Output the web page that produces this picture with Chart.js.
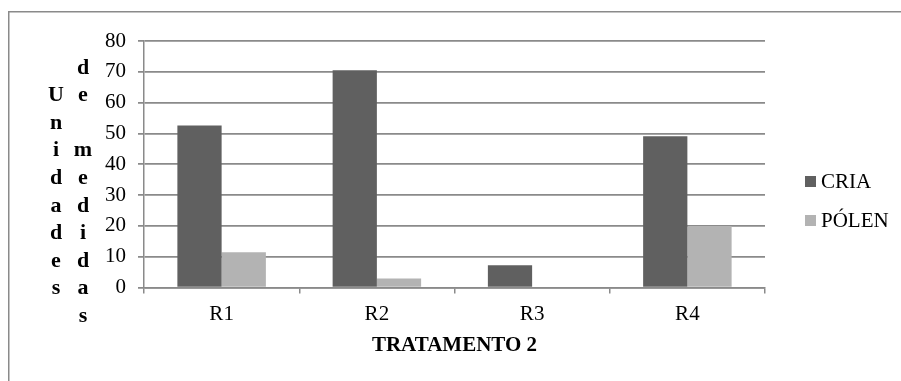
<!DOCTYPE html>
<html>
<head>
<meta charset="utf-8">
<script src="https://cdn.jsdelivr.net/npm/chart.js@4/dist/chart.umd.min.js"></script>
<style>
  html, body { margin: 0; padding: 0; background: #ffffff; }
  #wrap { width: 901px; height: 381px; }
</style>
</head>
<body>
<div id="wrap"><canvas id="c" width="901" height="381"></canvas></div>
<script>
// Data
const categories = ['R1', 'R2', 'R3', 'R4'];
const criaValues = [52.6, 70.5, 7.2, 49.1];
const polenValues = [11.4, 2.9, 0, 20.0];
const seriesNames = ['CRIA', 'PÓLEN'];
const seriesColors = ['#606060', '#b3b3b3'];
const yTicks = [0, 10, 20, 30, 40, 50, 60, 70, 80];
const xTitle = 'TRATAMENTO 2';
// Vertical axis title, stacked letter by letter in two columns
const yTitleColumns = [
  ['', 'U', 'n', 'i', 'd', 'a', 'd', 'e', 's'],
  ['d', 'e', '', 'm', 'e', 'd', 'i', 'd', 'a', 's']
];

const FONT = '"Liberation Serif", "Times New Roman", serif';
const GRID = '#8a8a8a';

// Outer frame and white background
const framePlugin = {
  id: 'frame',
  beforeDraw(chart) {
    const ctx = chart.ctx;
    ctx.save();
    ctx.fillStyle = '#ffffff';
    ctx.fillRect(0, 0, chart.width, chart.height);
    ctx.strokeStyle = GRID;
    ctx.lineWidth = 1.5;
    ctx.strokeRect(8.75, 11.75, chart.width + 20, chart.height + 20);
    ctx.restore();
  }
};

// Stacked vertical title for the value axis
const yTitlePlugin = {
  id: 'yTitleStack',
  afterDraw(chart) {
    const ctx = chart.ctx;
    const colX = [56, 83];
    const firstBaseline = 73.5;
    const step = 27.6;
    ctx.save();
    ctx.font = 'bold 22px ' + FONT;
    ctx.fillStyle = '#000';
    ctx.textAlign = 'center';
    ctx.textBaseline = 'alphabetic';
    yTitleColumns.forEach((col, ci) => {
      col.forEach((ch, ri) => {
        if (ch) ctx.fillText(ch, colX[ci], firstBaseline + ri * step);
      });
    });
    ctx.restore();
  }
};

// Legend at the right of the plot
const legendPlugin = {
  id: 'sideLegend',
  afterDraw(chart) {
    const ctx = chart.ctx;
    const boxX = 805, box = 11, textX = 821;
    const centers = [181.5, 220.5];
    ctx.save();
    ctx.font = '21px ' + FONT;
    ctx.textBaseline = 'middle';
    ctx.textAlign = 'left';
    chart.data.datasets.forEach((ds, i) => {
      ctx.fillStyle = ds.backgroundColor;
      ctx.fillRect(boxX, centers[i] - box / 2, box, box);
      ctx.fillStyle = '#000';
      ctx.fillText(ds.label, textX, centers[i] + 1);
    });
    ctx.restore();
  }
};

new Chart(document.getElementById('c'), {
  type: 'bar',
  data: {
    labels: categories,
    datasets: [
      { label: seriesNames[0], data: criaValues, backgroundColor: seriesColors[0] },
      { label: seriesNames[1], data: polenValues, backgroundColor: seriesColors[1] }
    ]
  },
  options: {
    responsive: false,
    devicePixelRatio: 1,
    animation: false,
    categoryPercentage: 0.57,
    barPercentage: 1.0,
    layout: { padding: { top: 41, right: 136, left: 0, bottom: 0 } },
    plugins: {
      legend: { display: false },
      tooltip: { enabled: false }
    },
    scales: {
      x: {
        offset: true,
        grid: {
          display: true,
          drawOnChartArea: false,
          drawTicks: true,
          tickLength: 6,
          offset: true,
          color: GRID,
          lineWidth: 1.5
        },
        border: { display: true, color: GRID, width: 1.5 },
        ticks: { font: { family: FONT, size: 21 }, color: '#000', padding: 8, maxRotation: 0 },
        title: {
          display: true,
          text: xTitle,
          color: '#000',
          font: { family: FONT, size: 21, weight: 'bold' },
          padding: { top: 0, bottom: 23 }
        },
        afterFit(scale) { scale.height = 93.5; }
      },
      y: {
        min: 0,
        max: 80,
        afterBuildTicks(scale) { scale.ticks = yTicks.map(v => ({ value: v })); },
        grid: {
          color: GRID,
          lineWidth: 1.75,
          tickLength: 6,
          drawTicks: true
        },
        border: { display: true, color: GRID, width: 1.5 },
        ticks: { font: { family: FONT, size: 21 }, color: '#000', padding: 12 },
        afterFit(scale) { scale.width = 144; }
      }
    }
  },
  plugins: [framePlugin, yTitlePlugin, legendPlugin]
});
</script>
</body>
</html>
